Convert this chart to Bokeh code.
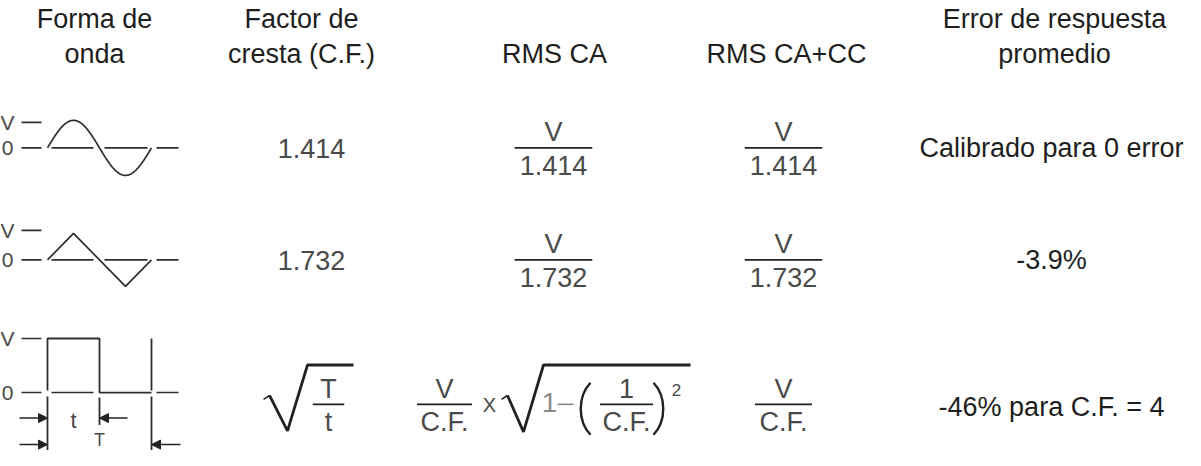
import numpy as np
from bokeh.plotting import figure
from bokeh.models import Range1d, Arrow, NormalHead
from bokeh.core.properties import value
from bokeh.embed import file_html
from bokeh.resources import INLINE

# ---------------- data ----------------
header_line1 = ["Forma de", "Factor de", "", "", "Error de respuesta"]
header_line2 = ["onda", "cresta (C.F.)", "RMS CA", "RMS CA+CC", "promedio"]
waveforms = ["sine", "triangle", "square"]
crest_factor = ["1.414", "1.732", None]          # third row is the formula sqrt(T/t)
rms_ac_num = ["V", "V", "V"]
rms_ac_den = ["1.414", "1.732", "C.F."]
rms_acdc_num = ["V", "V", "V"]
rms_acdc_den = ["1.414", "1.732", "C.F."]
avg_error = ["Calibrado para 0 error", "-3.9%", "-46% para C.F. = 4"]
level_labels = ["V", "0"]
sqrt_frac = ("T", "t")
inner_frac = ("1", "C.F.")

# ---------------- layout / style ----------------
FONT = "Liberation Sans"
HEAD = "#1e1e1e"
NUM = "#4a4a4a"
LINE = "#2e2e2e"
FS = 27

header_x = [104, 311, 564, 796, 1064]
header_y = [27, 62]
value_x = [104, 321, 563, 793, 1061]
row_y = [158, 272, 419]
zero_y = [158, 272, 407]
v_y = [132, 242, 352]
err_y = [158, 272, 422]

p = figure(width=1185, height=450, x_range=Range1d(10, 1195), y_range=Range1d(466, 8),
           output_backend="svg", toolbar_location=None, min_border=0,
           x_axis_location=None, y_axis_location=None)
p.grid.visible = False
p.outline_line_color = None
p.background_fill_color = "white"
p.border_fill_color = "white"

AW = {str(d): 0.556 for d in range(10)}
AW.update({".": 0.278, "C": 0.722, "F": 0.611, "V": 0.667, "T": 0.611, "t": 0.278})


def width_of(s, size=FS):
    return sum(AW.get(c, 0.556) for c in s) * size


def txt(x, y, s, size=FS, color=HEAD, align="center"):
    # y is the visual centre of the capitals
    p.text(x=[x], y=[y], text=[s], text_font=value(FONT), text_font_size=f"{size}px",
           text_color=color, text_align=align, text_baseline="middle")


def seg(x0, y0, x1, y1, w=1.6, color=LINE):
    p.segment(x0=[x0], y0=[y0], x1=[x1], y1=[y1], line_width=w, line_color=color)


def frac(cx, cy, num, den, size=FS, pad=10):
    bw = width_of(den, size) + pad
    seg(cx - bw / 2, cy, cx + bw / 2, cy, w=1.8, color="#222")
    txt(cx, cy - 16, num, size=size, color=NUM)
    txt(cx, cy + 18, den, size=size, color=NUM)


# ---------------- headers ----------------
for hx, l1, l2 in zip(header_x, header_line1, header_line2):
    if l1:
        txt(hx, header_y[0], l1)
    txt(hx, header_y[1], l2)

# ---------------- waveform column ----------------
X0, PER = 57, 104
for i, kind in enumerate(waveforms):
    z, v = zero_y[i], v_y[i]
    txt(17, v, level_labels[0], size=21, color=NUM)
    txt(17, z, level_labels[1], size=21, color=NUM)
    seg(31, v, 51, v)
    seg(31, z, 51, z)
    seg(61, z, 103, z)
    seg(166, z, 188, z)
    if kind == "sine":
        xs = np.linspace(X0, X0 + PER, 120)
        ys = z - 28 * np.sin(2 * np.pi * (xs - X0) / PER)
        p.line(xs, ys, line_width=1.7, line_color=LINE)
        seg(114, z, 157, z)
    elif kind == "triangle":
        a = 27
        p.line([X0, X0 + PER / 4, X0 + 3 * PER / 4, X0 + PER], [z, z - a, z + a, z],
               line_width=1.7, line_color=LINE)
        seg(114, z, 157, z)
    else:
        xm = X0 + PER / 2
        p.line([X0, X0, xm, xm, X0 + PER], [z - 2, v, v, z, z], line_width=1.8, line_color=LINE)
        seg(X0, z + 4, X0, 470, w=1.8)
        seg(X0 + PER, v, X0 + PER, z - 2, w=1.8)
        seg(X0 + PER, z + 4, X0 + PER, 470, w=1.8)
        seg(xm, z + 5, xm, 440, w=1.8)
        ya, yb = 433, 460
        head = dict(size=9, fill_color="#222", line_color="#222")
        for xs_, xe_, yy in [(29, X0, ya), (137, xm, ya), (29, X0, yb), (190, X0 + PER, yb)]:
            p.add_layout(Arrow(x_start=xs_, y_start=yy, x_end=xe_, y_end=yy,
                               end=NormalHead(**head), line_color="#222", line_width=1.5))
        txt(83, 435, sqrt_frac[1], size=22, color=NUM)
        txt(xm, 455, sqrt_frac[0], size=18, color=NUM)

# ---------------- crest factor column ----------------
for i in range(3):
    if crest_factor[i] is not None:
        txt(value_x[1], row_y[i] + 1, crest_factor[i], color=NUM)

# sqrt(T/t)
cy = row_y[2]
p.line([273, 279], [cy - 5, cy - 9], line_width=1.6, line_color="#222")
p.line([279, 297, 317, 363], [cy - 9, cy + 27, cy - 40, cy - 40], line_width=2.8, line_color="#222")
frac(338, cy, sqrt_frac[0], sqrt_frac[1], pad=24)

# ---------------- RMS AC column ----------------
for i in range(2):
    frac(value_x[2], row_y[i], rms_ac_num[i], rms_ac_den[i])

# V/C.F. x sqrt(1-(1/C.F.)^2)
frac(454, cy, rms_ac_num[2], rms_ac_den[2], pad=4)
txt(499, cy + 1, "X", size=20, color=NUM)
p.line([511, 517], [cy - 5, cy - 9], line_width=1.6, line_color="#222")
p.line([517, 533, 553, 700], [cy - 9, cy + 28, cy - 40, cy - 40], line_width=2.8, line_color="#222")
txt(559, cy - 2, inner_frac[0], size=28, color="#8a8a8a")
seg(567, cy, 583, cy, w=1.6, color="#8a8a8a")
p.bezier(x0=[600], y0=[cy - 22], x1=[600], y1=[cy + 31], cx0=[587], cy0=[cy - 8], cx1=[587], cy1=[cy + 17],
         line_width=2.4, line_color="#222")
frac(636, cy, inner_frac[0], inner_frac[1], pad=2)
p.bezier(x0=[663], y0=[cy - 22], x1=[663], y1=[cy + 31], cx0=[676], cy0=[cy - 8], cx1=[676], cy1=[cy + 17],
         line_width=2.4, line_color="#222")
txt(686, cy - 15, "2", size=17, color=NUM)

# ---------------- RMS AC+DC column ----------------
for i in range(3):
    frac(value_x[3], row_y[i], rms_acdc_num[i], rms_acdc_den[i], pad=10 if i < 2 else 6)

# ---------------- average response error column ----------------
for i in range(3):
    txt(value_x[4], err_y[i], avg_error[i])

open("out.html", "w").write(file_html(p, INLINE))
